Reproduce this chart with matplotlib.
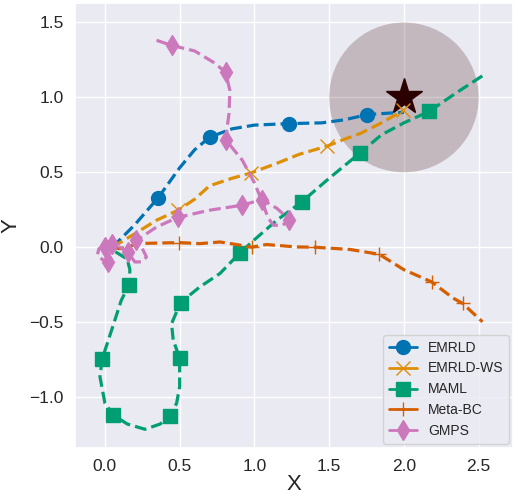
import matplotlib
matplotlib.use("Agg")
import matplotlib.pyplot as plt
from matplotlib.lines import Line2D
from matplotlib.patches import Circle
import seaborn as sns

sns.set_theme(style="darkgrid")
plt.rcParams['font.family'] = ['Liberation Sans', 'DejaVu Sans']

# ---------------- data ----------------
labels = ["EMRLD", "EMRLD-WS", "MAML", "Meta-BC", "GMPS"]
colors = ["#0173b2", "#de8f05", "#029e73", "#d55e00", "#cc78bc"]
markers = ["o", "x", "s", "+", "d"]

emrld_x = [0.05, 0.2, 0.357, 0.5, 0.6, 0.702, 0.85, 1.0, 1.229, 1.45, 1.6, 1.755, 1.9, 2.0]
emrld_y = [0.0, 0.15, 0.331, 0.53, 0.65, 0.735, 0.79, 0.815, 0.825, 0.83, 0.85, 0.885, 0.895, 0.9]
emrld_m = [2, 5, 8, 11]

ws_x = [0.05, 0.1, 0.2, 0.345, 0.49, 0.6, 0.70, 0.85, 0.975, 1.15, 1.3, 1.487, 1.6, 1.706, 1.86, 1.995]
ws_y = [0.0, 0.03, 0.09, 0.18, 0.247, 0.32, 0.41, 0.46, 0.495, 0.56, 0.62, 0.675, 0.72, 0.758, 0.835, 0.913]
ws_m = [4, 8, 11, 15]

maml_x = [0.07, 0.15, 0.167, 0.163, 0.11, 0.045, -0.018, -0.033, 0.0, 0.056, 0.15, 0.268, 0.37,
          0.437, 0.48, 0.50, 0.50, 0.457, 0.446, 0.506, 0.635, 0.77, 0.903, 1.0, 1.15, 1.316,
          1.5, 1.706, 1.85, 2.0, 2.17, 2.35, 2.53]
maml_y = [-0.03, -0.08, -0.15, -0.249, -0.353, -0.553, -0.745, -0.865, -1.04, -1.12, -1.18, -1.215,
          -1.18, -1.125, -1.04, -0.93, -0.74, -0.62, -0.51, -0.369, -0.265, -0.175, -0.038, 0.05,
          0.18, 0.302, 0.46, 0.629, 0.75, 0.83, 0.907, 1.03, 1.147]
maml_m = [3, 6, 9, 13, 16, 19, 22, 25, 27, 30]

bc_x = [0.05, 0.1, 0.234, 0.497, 0.635, 0.77, 0.88, 0.981, 1.08, 1.28, 1.405, 1.64, 1.835, 2.0,
        2.185, 2.33, 2.393, 2.526]
bc_y = [0.0, -0.01, 0.025, 0.031, 0.024, 0.035, 0.018, 0.0, 0.018, 0.002, 0.0, -0.015, -0.047,
        -0.15, -0.231, -0.34, -0.375, -0.498]
bc_m = [3, 7, 10, 12, 14, 16]

gmps_x = [0.0, -0.04, -0.05, -0.02, 0.02, 0.04, 0.05, 0.1, 0.155, 0.2, 0.245, 0.278, 0.256, 0.21,
          0.346, 0.49, 0.70, 0.914, 1.052, 1.15, 1.233, 1.19, 1.126, 1.09, 1.05, 1.0, 0.92, 0.807,
          0.83, 0.836, 0.807, 0.725, 0.6, 0.446, 0.334]
gmps_y = [0.0, -0.01, -0.05, -0.08, -0.10, -0.05, 0.02, 0.0, -0.035, -0.098, -0.098, -0.065,
          -0.02, 0.045, 0.135, 0.20, 0.247, 0.28, 0.318, 0.26, 0.185, 0.147, 0.147, 0.2, 0.31,
          0.43, 0.58, 0.718, 0.89, 1.047, 1.169, 1.235, 1.31, 1.347, 1.385]
gmps_m = [0, 4, 6, 8, 13, 15, 17, 18, 20, 27, 30, 33]

goal = (2.0, 1.0)
goal_radius = 0.5

series = [(emrld_x, emrld_y, emrld_m), (ws_x, ws_y, ws_m), (maml_x, maml_y, maml_m),
          (bc_x, bc_y, bc_m), (gmps_x, gmps_y, gmps_m)]

# ---------------- plot ----------------
fig = plt.figure(figsize=(5.14, 4.95), dpi=100)
ax = fig.add_axes([75 / 514, 1 - 448 / 495, (513 - 75) / 514, (448 - 3) / 495])

ax.add_patch(Circle(goal, goal_radius, facecolor="#300000", alpha=0.21, edgecolor="none", zorder=1.5))
ax.plot([goal[0]], [goal[1]], marker="*", markersize=27, color="#2a0000", zorder=1.6, linestyle="none")

for (xs, ys, mk), c, m in zip(series, colors, markers):
    ax.plot(xs, ys, linestyle="--", color=c, lw=2.3, marker=m, markersize=10,
            markevery=mk, markeredgewidth=1.0, markeredgecolor=c, zorder=2)

ax.set_xlim(-0.2, 2.73)
ax.set_ylim(-1.34, 1.63)
ax.set_xticks([0.0, 0.5, 1.0, 1.5, 2.0, 2.5])
ax.set_yticks([-1.0, -0.5, 0.0, 0.5, 1.0, 1.5])
ax.tick_params(axis="both", labelsize=12.5, length=0, pad=8)
ax.set_xlabel("X", fontsize=16, labelpad=0)
ax.set_ylabel("Y", fontsize=16, labelpad=6)

handles = [Line2D([], [], color=c, marker=m, markersize=10, lw=2, linestyle="-")
           for c, m in zip(colors, markers)]
ax.legend(handles, labels, loc="lower right", fontsize=10, borderaxespad=0.3)

fig.savefig("out.png", dpi=100)
